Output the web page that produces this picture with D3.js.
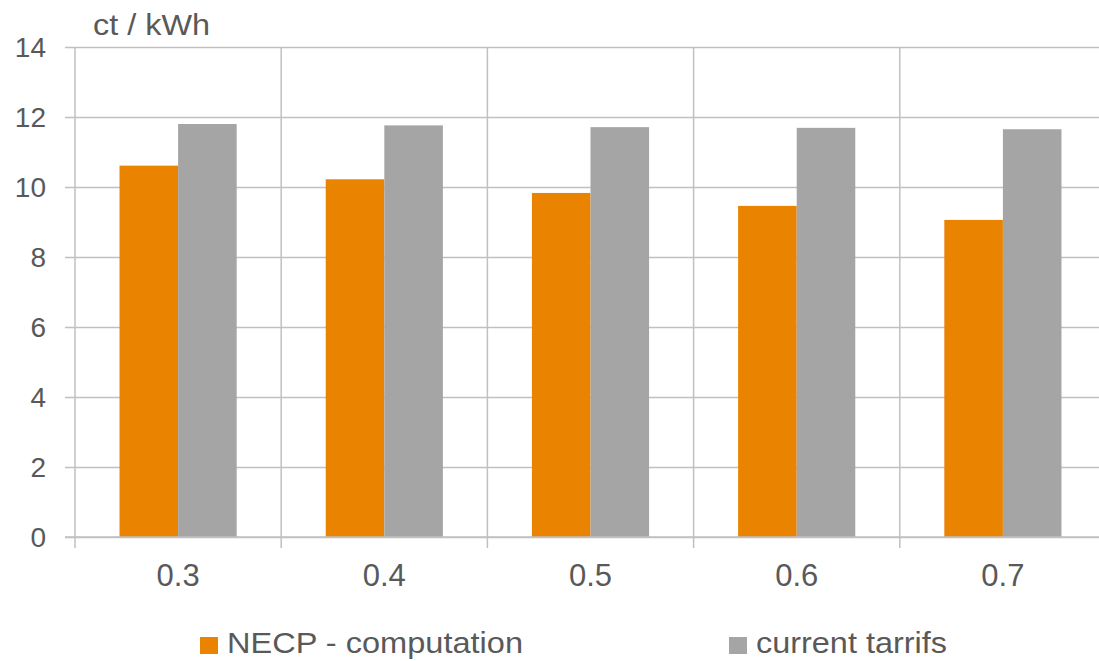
<!DOCTYPE html>
<html>
<head>
<meta charset="utf-8">
<script src="https://cdn.jsdelivr.net/npm/d3@7"></script>
<style>
  body { margin: 0; background: #fff; }
  svg { display: block; font-family: "Liberation Sans", Arial, sans-serif; }
</style>
</head>
<body>
<svg id="chart" width="1099" height="661"></svg>
<script>
// chart data
const categories = ["0.3", "0.4", "0.5", "0.6", "0.7"];
const seriesNames = ["NECP - computation", "current tarrifs"];
const necpValues = [10.61, 10.22, 9.83, 9.46, 9.06];
const currentValues = [11.80, 11.76, 11.71, 11.69, 11.65];
const yTicks = [0, 2, 4, 6, 8, 10, 12, 14];

const colors = { "NECP - computation": "#E98300", "current tarrifs": "#A5A5A5" };
const textColor = "#595959";
const gridColor = "#C0C0C0";

const svg = d3.select("#chart");

const plotLeft = 75, plotRight = 1106, plotTop = 47, plotBottom = 537;

const x0 = d3.scaleBand().domain(categories).range([plotLeft, plotRight]).padding(0);
const x1 = d3.scaleBand().domain(seriesNames).range([0, x0.bandwidth()])
  .paddingInner(0).paddingOuter(0.76);
const y = d3.scaleLinear().domain([0, 14]).range([plotBottom, plotTop]);

// horizontal grid with tick stubs
svg.append("g")
  .attr("transform", `translate(${plotLeft},0)`)
  .call(d3.axisLeft(y).tickValues(yTicks).tickSize(-(plotRight - plotLeft)).tickSizeOuter(0).tickFormat(""))
  .call(g => g.select(".domain").remove())
  .selectAll("line")
  .attr("x1", -10)
  .attr("stroke", gridColor)
  .attr("stroke-width", 1.5);

// vertical category separators
const bounds = categories.map(c => x0(c)).concat([plotRight]);
svg.append("g").selectAll("line")
  .data(bounds)
  .join("line")
  .attr("x1", d => d).attr("x2", d => d)
  .attr("y1", plotTop).attr("y2", plotBottom + 11)
  .attr("stroke", gridColor)
  .attr("stroke-width", 1.5);

// bars
const rows = categories.map((c, i) => ({
  cat: c,
  vals: [
    { name: seriesNames[0], v: necpValues[i] },
    { name: seriesNames[1], v: currentValues[i] }
  ]
}));

svg.append("g").selectAll("g")
  .data(rows)
  .join("g")
  .attr("transform", d => `translate(${x0(d.cat)},0)`)
  .selectAll("rect")
  .data(d => d.vals)
  .join("rect")
  .attr("x", d => x1(d.name))
  .attr("width", x1.bandwidth())
  .attr("y", d => y(d.v))
  .attr("height", d => y(0) - y(d.v))
  .attr("fill", d => colors[d.name]);

// x axis line on top of bars
svg.append("line")
  .attr("x1", plotLeft - 10).attr("x2", plotRight)
  .attr("y1", y(0)).attr("y2", y(0))
  .attr("stroke", gridColor).attr("stroke-width", 1.5);

// y tick labels
svg.append("g").selectAll("text")
  .data(yTicks)
  .join("text")
  .attr("x", 46)
  .attr("y", d => y(d) + 10)
  .attr("text-anchor", "end")
  .attr("fill", textColor)
  .style("font-size", "28px")
  .text(d => d);

// x tick labels
svg.append("g").selectAll("text")
  .data(categories)
  .join("text")
  .attr("x", d => x0(d) + x0.bandwidth() / 2)
  .attr("y", 586)
  .attr("text-anchor", "middle")
  .attr("fill", textColor)
  .style("font-size", "31px")
  .text(d => d);

// unit label (source text is a bit wider than Liberation Sans)
svg.append("text")
  .attr("x", 93)
  .attr("y", 35)
  .attr("fill", textColor)
  .attr("textLength", 117)
  .attr("lengthAdjust", "spacingAndGlyphs")
  .style("font-size", "29px")
  .text("ct / kWh");

// legend
const legendX = [200, 729];
const legendLen = [296, 191];
const legend = svg.append("g").selectAll("g")
  .data(seriesNames)
  .join("g")
  .attr("transform", (d, i) => `translate(${legendX[i]},637)`);

legend.append("rect")
  .attr("width", 18).attr("height", 17)
  .attr("fill", d => colors[d]);

legend.append("text")
  .attr("x", 27)
  .attr("y", 16)
  .attr("fill", textColor)
  .attr("textLength", (d, i) => legendLen[i])
  .attr("lengthAdjust", "spacingAndGlyphs")
  .style("font-size", "29px")
  .text(d => d);
</script>
</body>
</html>
